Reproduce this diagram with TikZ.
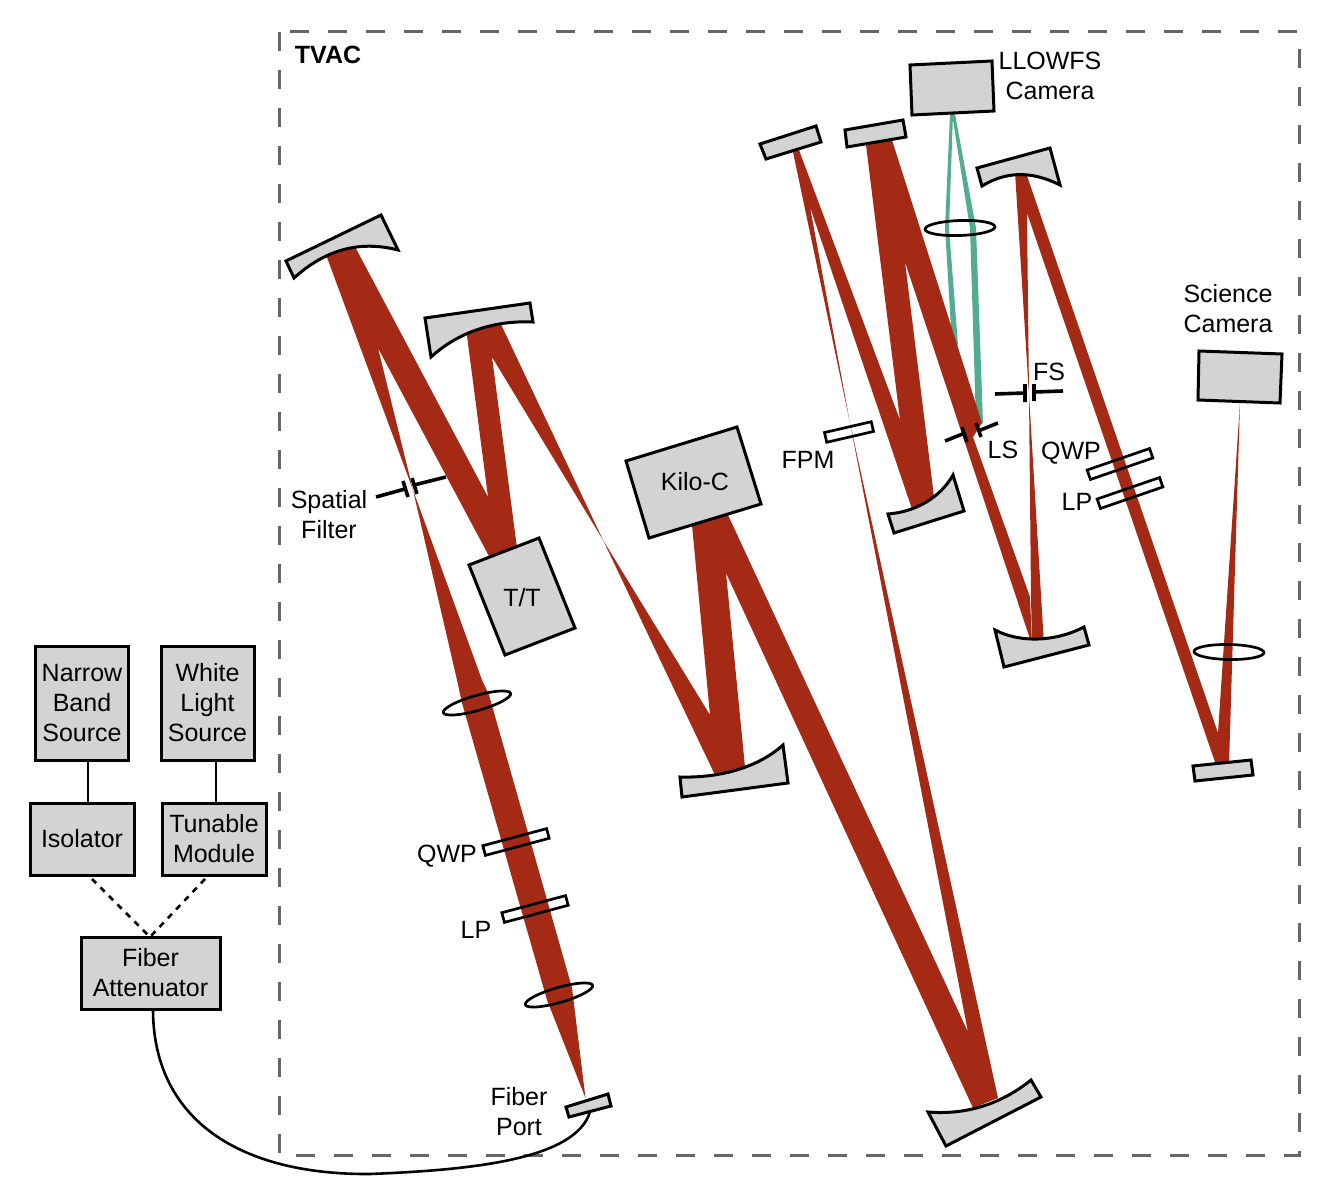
\documentclass[tikz,border=0pt]{standalone}
\usepackage{fontspec}
\setmainfont{Liberation Sans}
\usepackage{tikz}
\usetikzlibrary{shapes.geometric}
\definecolor{beamred}{HTML}{A52A16}
\definecolor{beamgreen}{HTML}{52AC91}
\definecolor{optgray}{HTML}{D3D3D3}
\definecolor{tvacgray}{HTML}{666666}

\begin{document}
\begin{tikzpicture}[
  x=0.5pt, y=-0.5pt,
  every node/.style={font=\fontsize{12.5}{15}\selectfont, align=center, inner sep=0pt},
  box/.style={rectangle, draw=black, fill=optgray, line width=1.5pt},
  optic/.style={draw=black, fill=optgray, line width=1.5pt, line join=miter},
  lens/.style={ellipse, draw=black, line width=1.35pt, minimum width=35pt, minimum height=7.5pt},
  plate/.style={rectangle, draw=black, line width=1.35pt, minimum height=5pt},
  stop/.style={draw=black, line width=1.8pt},
  link/.style={draw=black, line width=1.3pt}
]
  \useasboundingbox (0,0) rectangle (1318,1204);

  \draw[tvacgray, line width=1.5pt, dash pattern=on 9.5pt off 9.5pt] (279,32) rectangle (1299,1155);
  \node[font=\fontsize{12.5}{15}\selectfont\bfseries] (tvac) at (328,55) {TVAC};

  \fill[beamgreen] (950,114) -- (953,114) -- (949,228) -- (958,345) -- (952,345) -- (945,228) -- cycle;
  \fill[beamgreen] (952,114) -- (955,114) -- (976,228) -- (983,423) -- (976,423) -- (970,228) -- cycle;

  \fill[beamred] (585.5,1098) -- (572,988) -- (489,695) -- (482,680) -- (413,490) -- (378,348) -- (490,558) -- (517,548) -- (492,357) -- (603,540) -- (710,715) -- (692,525) -- (728,515) -- (968,1032) -- (850,423) -- (810,207) -- (915,518) -- (935,505) -- (905,262) -- (1032,645) -- (1030,597) -- (973,437) -- (982,423) -- (892,140) -- (866,145) -- (900,420) -- (799,150) -- (793,152) -- (850,423) -- (998,1098) -- (973,1108) -- (726,573) -- (745,767) -- (715,775) -- (603,540) -- (498,318) -- (466,328) -- (488,497) -- (353,243) -- (325,252) -- (413,490) -- (457,680) -- (462,703) -- (547,1000) -- cycle;
  \fill[beamred] (1029,395) -- (1044,645) -- (1032,645) -- (1031,597) -- cycle;
  \fill[beamred] (1029,395) -- (1015,172) -- (1025,170) -- (1218,733) -- (1240,403) -- (1229,765) -- (1216,765) -- (1027,213) -- cycle;

  \draw[optic] (286,261) -- (381,215) -- (398,250) .. controls (359,240) and (325,250) .. (294,278) -- cycle;
  \draw[optic] (425,318) -- (530,303) -- (533,322) .. controls (490,320) and (455,335) .. (431,357) -- cycle;
  \draw[optic] (680,777) .. controls (715,778) and (755,770) .. (783,745) -- (788,783) -- (682,797) -- cycle;
  \draw[optic] (928,1112) .. controls (965,1115) and (1000,1105) .. (1031,1080) -- (1041,1097) -- (946,1146) -- cycle;
  \draw[optic] (888,514) .. controls (915,512) and (940,498) .. (953,475) -- (964,511) -- (894,533) -- cycle;
  \draw[optic] (995,630) .. controls (1020,643) and (1055,642) .. (1084,627) -- (1089,645) -- (1004,667) -- cycle;
  \draw[optic] (977,168) -- (1050,148) -- (1060,185) .. controls (1030,170) and (1005,172) .. (982,186) -- cycle;
  \draw[optic] (760,144) -- (816,126) -- (821,142) -- (766,159) -- cycle;
  \draw[optic] (845,130) -- (903,120) -- (906,137) -- (847,147) -- cycle;
  \draw[optic] (566,1107) -- (608,1094) -- (611,1106) -- (569,1117) -- cycle;
  \draw[optic] (1193,766) -- (1251,760) -- (1253,775) -- (1195,781) -- cycle;
  \draw[optic] (910,65) -- (992,61) -- (994,111) -- (912,115) -- cycle;
  \draw[optic] (1199,351) -- (1282,354) -- (1280,403) -- (1198,400) -- cycle;
  \draw[optic] (626,461) -- (737,427) -- (761,504) -- (649,538) -- cycle;
  \draw[optic] (469,565) -- (539,538) -- (575,628) -- (505,655) -- cycle;

  \node (tt) at (522,598) {T/T};
  \node (kilo) at (695,482) {Kilo-C};
  \node (llowfs) at (1050,76) {LLOWFS\\Camera};
  \node (science) at (1228,309) {Science\\Camera};

  \node[lens, rotate=16] (lensa) at (477,703) {};
  \node[lens, rotate=16] (lensb) at (559,995) {};
  \node[lens, rotate=2] (lensc) at (960,228) {};
  \node[lens, rotate=-1] (lensd) at (1229,652) {};

  \node[plate, minimum width=33pt, rotate=15] (qwpa) at (516,842) {};
  \node[plate, minimum width=33pt, rotate=15] (lpa) at (535,909) {};
  \node[plate, minimum width=24pt, rotate=13] (fpmplate) at (849,432) {};
  \node[plate, minimum width=33pt, rotate=19] (qwpb) at (1120,464) {};
  \node[plate, minimum width=33pt, rotate=19] (lpb) at (1130,493) {};

  \draw[stop] (376,497) -- (405,489) (403,481) -- (408,497) (446,477) -- (414,485) (412,478) -- (417,494);
  \draw[stop] (995,394) -- (1025,393) (1025,384) -- (1025,402) (1063,391) -- (1034,392) (1034,384) -- (1034,401);
  \draw[stop] (945,441) -- (965,433) (962,427) -- (967,442) (998,423) -- (978,431) (976,423) -- (981,437);

  \node (spatial) at (329,515) {Spatial\\Filter};
  \node (qwpaname) at (447,856) {QWP};
  \node (lpaname) at (476,930) {LP};
  \node (port) at (519,1112) {Fiber\\Port};
  \node (fpm) at (808,460) {FPM};
  \node (ls) at (1003,450) {LS};
  \node (fs) at (1049,372) {FS};
  \node (qwpbname) at (1071,453) {QWP};
  \node (lpbname) at (1077,502) {LP};

  \node[box, minimum width=46.5pt, minimum height=57pt] (narrow) at (82,703) {Narrow\\Band\\Source};
  \node[box, minimum width=46.5pt, minimum height=57pt] (white) at (207.5,703) {White\\Light\\Source};
  \node[box, minimum width=52pt, minimum height=36pt] (iso) at (82,839) {Isolator};
  \node[box, minimum width=52pt, minimum height=36pt] (tunable) at (214,839) {Tunable\\Module};
  \node[box, minimum width=69.5pt, minimum height=36pt] (atten) at (150.5,973) {Fiber\\Attenuator};

  \coordinate (narrowend) at (88,760);
  \coordinate (isotop) at (88,803);
  \coordinate (whiteend) at (216,760);
  \coordinate (tunabletop) at (216,803);
  \coordinate (isoend) at (92,879);
  \coordinate (tunableend) at (205,879);
  \coordinate (attentop) at (150,937);
  \coordinate (attenend) at (153,1009);
  \coordinate (portend) at (590,1112);

  \draw[link] (narrowend) -- (isotop) (whiteend) -- (tunabletop);
  \draw[link, dashed] (isoend) -- (attentop) (tunableend) -- (attentop);
  \draw[link] (attenend) .. controls (153,1120) and (240,1175) .. (370,1174) .. controls (470,1170) and (575,1160) .. (portend);
\end{tikzpicture}
\end{document}
